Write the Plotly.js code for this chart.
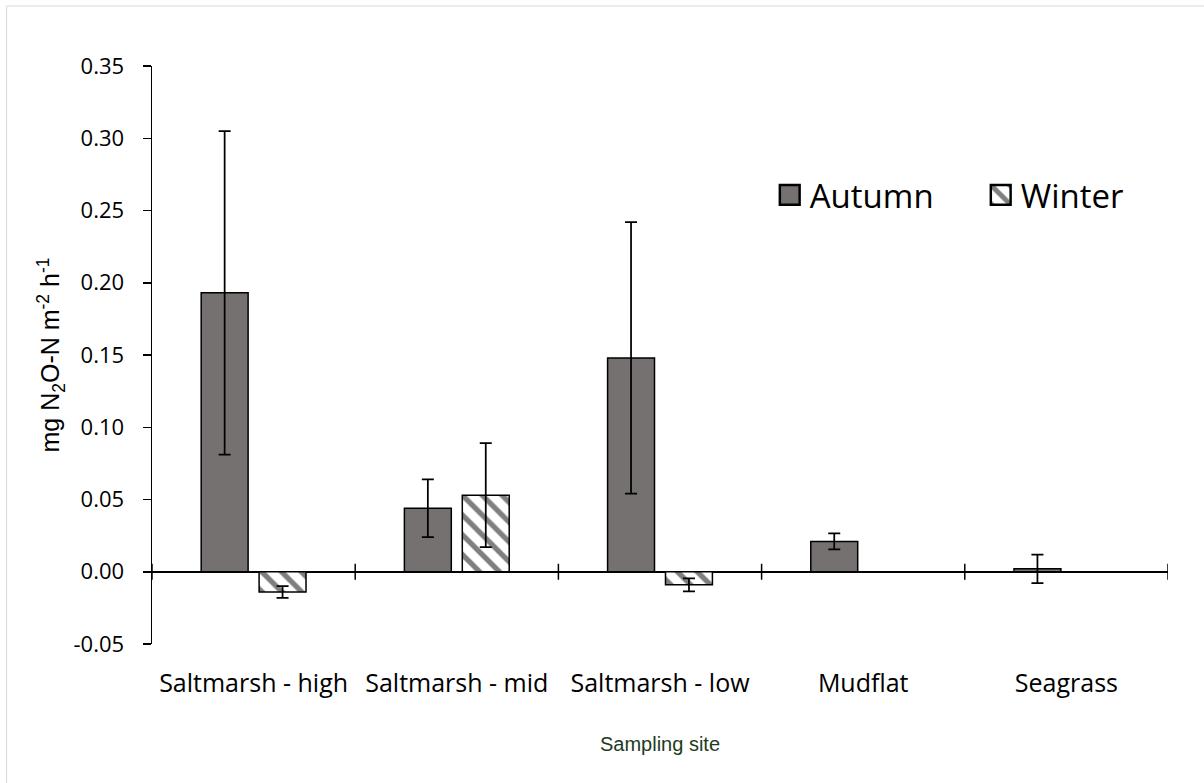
<!DOCTYPE html>
<html>
<head>
<meta charset="utf-8">
<script src="https://cdn.plot.ly/plotly-3.0.1.min.js"></script>
<style>html,body{margin:0;padding:0;background:#fff;}#chart{width:1204px;height:783px;}</style>
</head>
<body>
<div id="chart"></div>
<script>
// ---- data ----
var sites = ["Saltmarsh - high", "Saltmarsh - mid", "Saltmarsh - low", "Mudflat", "Seagrass"];
var autumnValues = [0.193, 0.044, 0.148, 0.021, 0.002];
var autumnErrors = [0.112, 0.020, 0.094, 0.0055, 0.0098];
var winterValues = [-0.014, 0.053, -0.009, null, null];
var winterErrors = [0.004, 0.036, 0.0045, null, null];
var yTickValues = [-0.05, 0, 0.05, 0.10, 0.15, 0.20, 0.25, 0.30, 0.35];
var yTickLabels = ["-0.05", "0.00", "0.05", "0.10", "0.15", "0.20", "0.25", "0.30", "0.35"];
var categoryBoundaries = [-0.5, 0.5, 1.5, 2.5, 3.5, 4.5];

var autumn = {
  type: "bar", name: "Autumn", x: sites, y: autumnValues,
  marker: {color: "#767171", line: {color: "#000", width: 1.5}},
  error_y: {type: "data", array: autumnErrors, visible: true, color: "#000", thickness: 1.75, width: 6}
};
var winter = {
  type: "bar", name: "Winter", x: sites, y: winterValues,
  marker: {color: "#ffffff", line: {color: "#000", width: 1.5},
           pattern: {shape: "\\", fgcolor: "#7f7f7f", bgcolor: "#ffffff", size: 14, solidity: 0.38}},
  error_y: {type: "data", array: winterErrors, visible: true, color: "#000", thickness: 1.75, width: 6}
};

var shapes = categoryBoundaries.map(function (b) {
  return {type: "line", xref: "x", yref: "y", ysizemode: "pixel", yanchor: 0,
          x0: b, x1: b, y0: -8, y1: 8, line: {color: "#000", width: 1.5}};
});
shapes.push({type: "rect", xref: "paper", yref: "paper", x0: -0.1431, x1: 1.04, y0: -0.26, y1: 1.1038,
             line: {color: "#d9d9d9", width: 1}, fillcolor: "rgba(0,0,0,0)", layer: "below"});

var layout = {
  width: 1204, height: 783,
  margin: {l: 152, r: 32, t: 66, b: 139},
  paper_bgcolor: "#fff", plot_bgcolor: "#fff",
  barmode: "group", bargap: 0.43, bargroupgap: 0.19,
  showlegend: true,
  legend: {orientation: "h", x: 0.608, y: 0.777, xanchor: "left", yanchor: "middle",
           font: {family: "Open Sans, sans-serif", size: 33, color: "#000"},
           entrywidth: 166, entrywidthmode: "pixels", bgcolor: "rgba(0,0,0,0)"},
  xaxis: {type: "category", categoryorder: "array", categoryarray: sites, range: [-0.5, 4.5],
          showline: false, ticks: "", showgrid: false, zeroline: false, automargin: false,
          tickfont: {family: "Open Sans, sans-serif", size: 25, color: "#000"}, ticklabelstandoff: 22,
          title: {text: "Sampling site", standoff: 38,
                  font: {family: "Liberation Sans, Arial, sans-serif", size: 20, color: "#1e3b1e"}}},
  yaxis: {range: [-0.05, 0.35], tickvals: yTickValues, ticktext: yTickLabels,
          showline: true, linecolor: "#000", linewidth: 1.5,
          ticks: "outside", ticklen: 8, tickwidth: 1.5, tickcolor: "#000",
          showgrid: false, zeroline: true, zerolinecolor: "#000", zerolinewidth: 1.5,
          automargin: false, tickfont: {family: "Open Sans, sans-serif", size: 22, color: "#000"},
          ticklabelstandoff: 14,
          title: {text: "mg N<sub>2</sub>O-N m<sup>-2</sup> h<sup>-1</sup>", standoff: 6,
                  font: {family: "Liberation Sans, Arial, sans-serif", size: 25, color: "#000"}}},
  shapes: shapes
};

Plotly.newPlot("chart", [autumn, winter], layout, {displayModeBar: false, staticPlot: true}).then(function () {
  document.querySelectorAll(".legendpoints path").forEach(function (p) {
    var t = p.getAttribute("transform") || "";
    p.setAttribute("transform", t + " scale(1.65)");
  });
});
</script>
</body>
</html>
